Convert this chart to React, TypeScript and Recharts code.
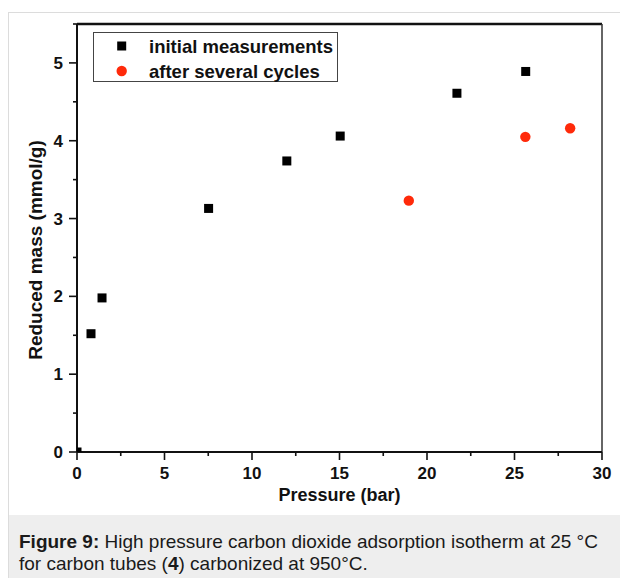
import React from 'react';
import { ScatterChart, Scatter, XAxis, YAxis, Legend, ReferenceLine } from 'recharts';

// values
const initialPressure = [0, 0.8, 1.43, 7.52, 11.99, 15.04, 21.71, 25.64];
const initialMass = [0, 1.52, 1.98, 3.13, 3.74, 4.06, 4.61, 4.89];
const cyclesPressure = [18.96, 25.62, 28.18];
const cyclesMass = [3.23, 4.05, 4.16];

const xTicks = [0, 2.5, 5, 7.5, 10, 12.5, 15, 17.5, 20, 22.5, 25, 27.5, 30];
const xLabels = [0, 5, 10, 15, 20, 25, 30];
const yTicks = [0, 0.5, 1, 1.5, 2, 2.5, 3, 3.5, 4, 4.5, 5, 5.5];
const yLabels = [0, 1, 2, 3, 4, 5];

const seriesNames = ['initial measurements', 'after several cycles'];
const seriesColors = ['#000000', '#ff2a0a'];

const FONT = '"Liberation Sans", Arial, Helvetica, sans-serif';
const INK = '#111';

const initialData = initialPressure.map((x, i) => ({ x, y: initialMass[i] }));
const cyclesData = cyclesPressure.map((x, i) => ({ x, y: cyclesMass[i] }));

const XTick = (props: any) => {
    const { x, y, payload } = props;
    const major = xLabels.includes(payload.value);
    return (
        <g>
            <line x1={x} x2={x} y1={y} y2={y + (major ? 8 : 4)} stroke={INK} strokeWidth={1.6} />
            {major && (
                <text x={x} y={y + 27} textAnchor="middle" fontFamily={FONT} fontWeight="bold" fontSize={17} fill={INK}>
                    {payload.value}
                </text>
            )}
        </g>
    );
};

const YTick = (props: any) => {
    const { x, y, payload } = props;
    const major = yLabels.includes(payload.value);
    return (
        <g>
            <line x1={x - (major ? 8 : 4)} x2={x} y1={y} y2={y} stroke={INK} strokeWidth={1.6} />
            {major && (
                <text x={x - 14} y={y + 6} textAnchor="end" fontFamily={FONT} fontWeight="bold" fontSize={17} fill={INK}>
                    {payload.value}
                </text>
            )}
        </g>
    );
};

const XLabel = (props: any) => {
    const vb = props.viewBox || {};
    return (
        <text x={vb.x + vb.width / 2} y={vb.y + 49} textAnchor="middle" fontFamily={FONT} fontWeight="bold" fontSize={18} fill={INK}>
            Pressure (bar)
        </text>
    );
};

const YLabel = (props: any) => {
    const vb = props.viewBox || {};
    const cx = vb.x + 18;
    const cy = vb.y + vb.height / 2 + 12;
    return (
        <text x={cx} y={cy} transform={`rotate(-90 ${cx} ${cy})`} textAnchor="middle" dominantBaseline="central"
            fontFamily={FONT} fontWeight="bold" fontSize={19} fill={INK}>
            Reduced mass (mmol/g)
        </text>
    );
};

const SquareDot = (p: any) => <rect x={p.cx - 4.5} y={p.cy - 4.5} width={9} height={9} fill={p.fill} />;
const RoundDot = (p: any) => <circle cx={p.cx} cy={p.cy} r={5.2} fill={p.fill} />;

const LegendBox = (props: any) => {
    const items: any[] = [...(props.payload || [])].sort(
        (a, b) => seriesNames.indexOf(a.value) - seriesNames.indexOf(b.value)
    );
    return (
        <svg width={245} height={50} style={{ display: 'block' }}>
            <rect x={0.5} y={0.5} width={244} height={49} fill="#fff" stroke="#444" />
            {items.map((entry, i) => {
                const cy = 14 + i * 25;
                return (
                    <g key={entry.value}>
                        {entry.type === 'square'
                            ? <rect x={24.2} y={cy - 4.5} width={9} height={9} fill={entry.color} />
                            : <circle cx={28.7} cy={cy} r={5.2} fill={entry.color} />}
                        <text x={56} y={cy + 7} fontFamily={FONT} fontWeight="bold" fontSize={18.5} fill={INK}>
                            {entry.value}
                        </text>
                    </g>
                );
            })}
        </svg>
    );
};

export default function App() {
    return (
        <div style={{
            position: 'fixed', left: 8, top: 12, width: 612, height: 566, boxSizing: 'border-box',
            borderLeft: '1px solid #dcdcdc', borderTop: '1px solid #dcdcdc', background: '#fff'
        }}>
            <ScatterChart width={611} height={502} margin={{ top: 11, right: 18, bottom: 3, left: 8 }}>
                <XAxis
                    type="number" dataKey="x" domain={[0, 30]} ticks={xTicks} interval={0} allowDataOverflow
                    tickSize={0} tickMargin={0} tickLine={false} tick={XTick}
                    axisLine={{ stroke: INK, strokeWidth: 2 }} height={60} label={{ content: XLabel }}
                />
                <YAxis
                    type="number" dataKey="y" domain={[0, 5.5]} ticks={yTicks} interval={0} allowDataOverflow
                    tickSize={0} tickMargin={0} tickLine={false} tick={YTick}
                    axisLine={{ stroke: INK, strokeWidth: 2 }} width={60} label={{ content: YLabel }}
                />
                <ReferenceLine y={5.5} stroke={INK} strokeWidth={2.5} />
                <ReferenceLine x={30} stroke="#333" strokeWidth={1.5} />
                <Legend
                    layout="vertical" align="center" verticalAlign="middle" content={LegendBox}
                    wrapperStyle={{ left: 84, top: 19, width: 245, height: 50 }}
                />
                <Scatter name={seriesNames[0]} data={initialData} fill={seriesColors[0]} legendType="square"
                    shape={SquareDot} isAnimationActive={false} />
                <Scatter name={seriesNames[1]} data={cyclesData} fill={seriesColors[1]} legendType="circle"
                    shape={RoundDot} isAnimationActive={false} />
            </ScatterChart>
            <div style={{
                background: '#eeeeee', height: 63, boxSizing: 'border-box', padding: '16px 0 0 10px',
                fontFamily: FONT, fontSize: 19, lineHeight: '22px', color: '#1a1a1a'
            }}>
                <b>Figure 9:</b> High pressure carbon dioxide adsorption isotherm at 25 °C<br />
                for carbon tubes (<b>4</b>) carbonized at 950°C.
            </div>
        </div>
    );
}
